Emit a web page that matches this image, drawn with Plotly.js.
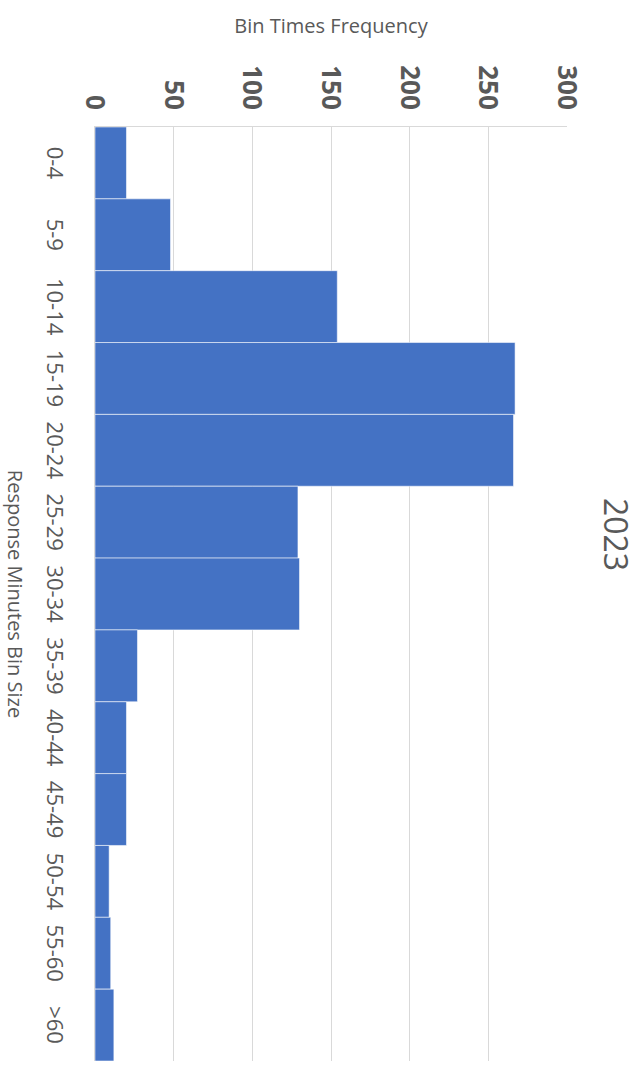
<!DOCTYPE html>
<html>
<head>
<meta charset="utf-8">
<script src="https://cdn.plot.ly/plotly-3.0.1.min.js"></script>
<style>
  html, body { margin: 0; padding: 0; background: #ffffff; overflow: hidden; }
  body { width: 643px; height: 1069px; position: relative; }
  #chart {
    position: absolute; left: 0; top: 0;
    width: 1069px; height: 643px;
    transform-origin: 0 0;
    transform: translate(643px, 0) rotate(90deg);
  }
</style>
</head>
<body>
<div id="chart"></div>
<script>
// Data
var binLabels = ['0-4', '5-9', '10-14', '15-19', '20-24', '25-29', '30-34', '35-39', '40-44', '45-49', '50-54', '55-60', '>60'];
var frequency = [20, 48, 154, 267, 266, 129, 130, 27, 20, 20, 9, 10, 12];
var valueTicks = [0, 50, 100, 150, 200, 250, 300];
var chartTitle = '2023';
var xTitle = 'Response Minutes Bin Size';
var yTitle = 'Bin Times Frequency';

var textColor = '#595959';
var fontFamily = '"Open Sans", "Noto Sans", "DejaVu Sans", sans-serif';

var trace = {
  type: 'bar',
  x: binLabels,
  y: frequency,
  marker: {
    color: '#4472C4',
    line: { color: 'rgba(255,255,255,0.55)', width: 1 }
  },
  hoverinfo: 'x+y'
};

var layout = {
  width: 1069,
  height: 643,
  margin: { l: 127, r: 8, t: 76, b: 95, pad: 0 },
  paper_bgcolor: '#ffffff',
  plot_bgcolor: '#ffffff',
  showlegend: false,
  bargap: 0,
  font: { family: fontFamily, color: textColor },
  title: {
    text: chartTitle,
    font: { family: fontFamily, size: 32, color: textColor },
    x: 0.5, xref: 'container', xanchor: 'center',
    y: 1 - 28 / 643, yref: 'container', yanchor: 'middle'
  },
  xaxis: {
    type: 'category',
    tickfont: { family: fontFamily, size: 22, color: textColor },
    ticks: '',
    ticklabelstandoff: 20,
    showgrid: false,
    showline: true,
    linecolor: '#d9d9d9',
    linewidth: 1.5,
    zeroline: false,
    automargin: false,
    title: {
      text: xTitle,
      font: { family: fontFamily, size: 20, color: textColor },
      standoff: 20
    }
  },
  yaxis: {
    range: [0, 300],
    tickvals: valueTicks,
    ticktext: valueTicks.map(String),
    tickfont: { family: fontFamily, size: 26, color: textColor, weight: 'bold' },
    ticks: '',
    ticklabelstandoff: 11,
    showgrid: true,
    gridcolor: '#d9d9d9',
    gridwidth: 1,
    showline: true,
    linecolor: '#d9d9d9',
    linewidth: 1,
    zeroline: false,
    automargin: false,
    title: {
      text: yTitle,
      font: { family: fontFamily, size: 20, color: textColor },
      standoff: 26
    }
  }
};

Plotly.newPlot('chart', [trace], layout, { displayModeBar: false, staticPlot: true, responsive: false });
</script>
</body>
</html>
